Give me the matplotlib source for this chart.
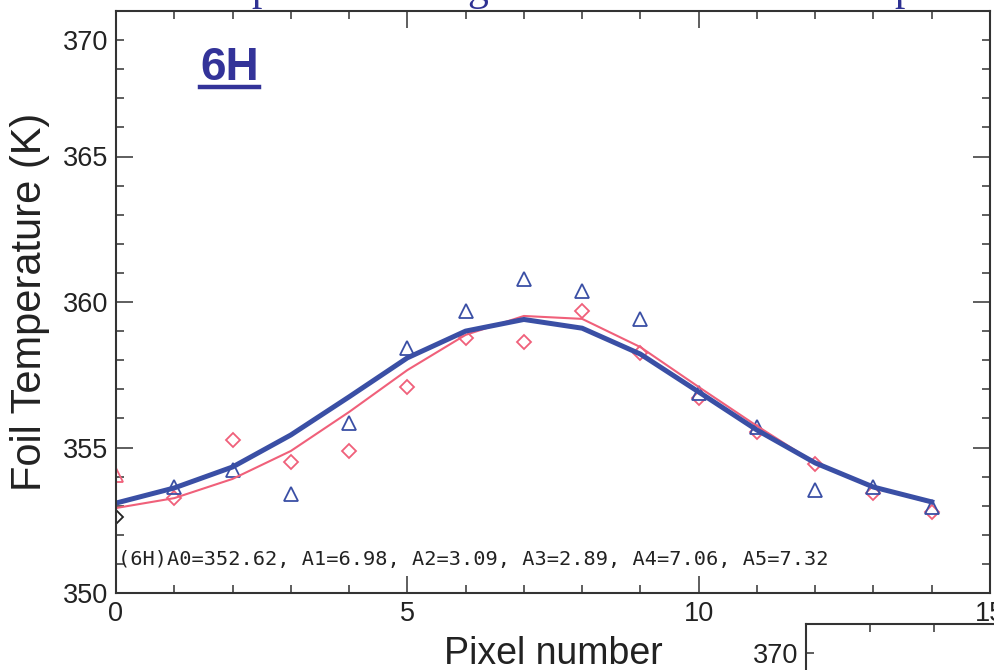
import matplotlib
matplotlib.use('Agg')
import matplotlib.pyplot as plt
from matplotlib.lines import Line2D
from matplotlib.ticker import MultipleLocator
import numpy as np

plt.rcParams['font.family'] = ['Liberation Sans', 'DejaVu Sans']

# pixel index along the foil
pixels = np.arange(15)
marker_pixels = np.arange(1, 15)

# measured foil temperatures (K)
temp_triangles = [353.64, 354.23, 353.40, 355.84, 358.42, 359.69, 360.79,
                  360.38, 359.42, 356.87, 355.70, 353.54, 353.64, 352.96]
temp_diamonds = [353.26, 355.26, 354.50, 354.88, 357.08, 358.76, 358.63,
                 359.69, 358.25, 356.70, 355.53, 354.43, 353.44, 352.78]
# first pixel drawn in other colours
first_triangle = [354.05]
first_diamond = [352.60]

# fitted curves
fit_blue = [353.09, 353.61, 354.33, 355.43, 356.74, 358.08, 359.00, 359.40,
            359.10, 358.21, 356.91, 355.60, 354.47, 353.64, 353.13]
fit_red = [352.92, 353.26, 353.92, 354.88, 356.22, 357.66, 358.87, 359.52,
           359.42, 358.45, 357.08, 355.74, 354.47, 353.64, 353.09]

fit_text = '(6H)A0=352.62, A1=6.98, A2=3.09, A3=2.89, A4=7.06, A5=7.32'

BLUE = '#3a4fa5'
RED = '#f0607a'
AXIS = '#333333'
TICK_FS = 19.5

W, H = 995, 670


def style_axes(ax, labels=True):
    ax.set_xlim(0, 15)
    ax.set_ylim(350, 370)
    ax.xaxis.set_major_locator(MultipleLocator(5))
    ax.xaxis.set_minor_locator(MultipleLocator(1))
    ax.set_yticks([350, 355, 360, 365])
    ax.yaxis.set_minor_locator(MultipleLocator(1))
    ax.tick_params(which='both', direction='in', top=True, right=True,
                   color=AXIS, width=1.1, labelsize=TICK_FS,
                   labelcolor='#222222', pad=5.5)
    ax.tick_params(which='major', length=12)
    ax.tick_params(which='minor', length=6)
    if not labels:
        ax.tick_params(labelbottom=False, labelleft=False)
    for sp in ax.spines.values():
        sp.set_linewidth(1.5)
        sp.set_color(AXIS)
    # the top label sits on the last minor tick in the original
    ax.annotate('370', xy=(0, 369), xycoords=ax.get_yaxis_transform(),
                xytext=(-5.5, 0), textcoords='offset points',
                ha='right', va='center_baseline', fontsize=TICK_FS,
                color='#222222', annotation_clip=False)


fig = plt.figure(figsize=(W / 100, H / 100), dpi=100)
ax = fig.add_axes([116 / W, (H - 593) / H, 874 / W, 582 / H])
style_axes(ax)

ax.plot(marker_pixels, temp_diamonds, 'D', ms=6.8, mfc='none', mec=RED,
        mew=1.3)
ax.plot(marker_pixels, temp_triangles, '^', ms=10.5, mfc='none', mec=BLUE,
        mew=1.3)
ax.plot([0], first_triangle, '^', ms=10.5, mfc='none', mec=RED, mew=1.3)
ax.plot([0], first_diamond, 'D', ms=6.8, mfc='none', mec='#222222', mew=1.3)
ax.plot(pixels, fit_red, '-', color=RED, lw=1.5)
ax.plot(pixels, fit_blue, '-', color=BLUE, lw=3.6)

ax.text(0.03, 351.15, fit_text, family='DejaVu Sans Mono', fontsize=14.6,
        color='#222222', ha='left', va='center')

ax.set_xlabel('Pixel number', fontsize=27, color='#222222', labelpad=6.5)
ax.set_ylabel('Foil Temperature (K)', fontsize=30, color='#222222',
              labelpad=9)

# panel tag with underline
tag = fig.text(200 / W, 1 - 80 / H, '6H', fontsize=33, fontweight='bold',
               color='#333399', ha='left', va='baseline')
fig.canvas.draw()
bb = tag.get_window_extent()
fig.add_artist(Line2D([bb.x0 / W, bb.x1 / W], [1 - 87 / H, 1 - 87 / H],
                      color='#333399', lw=3.2))

# slide title cut off at the top edge
for xp, ch in [(262, 'p'), (478, 'g'), (905, 'p')]:
    fig.text(xp / W, 1.0, ch, family='Liberation Serif', fontsize=30,
             color='#2e3192', ha='center', va='baseline')

# neighbouring panel peeking in at the bottom right
ax2 = fig.add_axes([806 / W, (H - 624 - 582) / H, 960 / W, 582 / H])
style_axes(ax2, labels=False)

fig.savefig('out.png', dpi=100)
plt.close(fig)
